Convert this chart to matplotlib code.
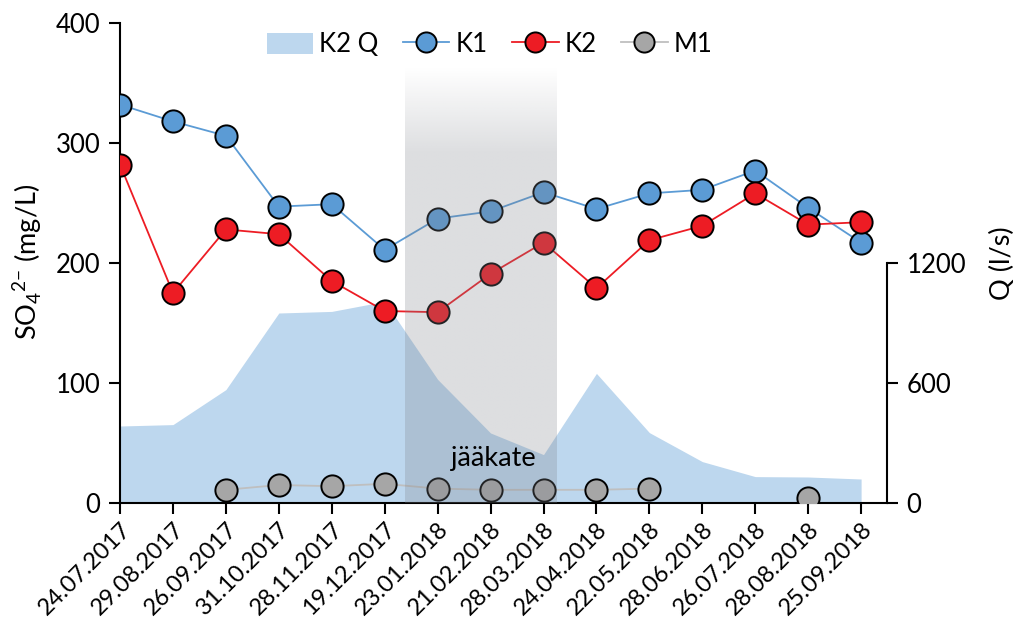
import numpy as np
import matplotlib
matplotlib.use("Agg")
import matplotlib.pyplot as plt
from matplotlib.patches import Patch
from matplotlib.lines import Line2D

plt.rcParams['font.family'] = ['Lato', 'DejaVu Sans']
plt.rcParams['mathtext.fontset'] = 'custom'
plt.rcParams['mathtext.rm'] = 'Lato'

# näytteenottopäivät
dates = ['24.07.2017', '29.08.2017', '26.09.2017', '31.10.2017', '28.11.2017',
         '19.12.2017', '23.01.2018', '21.02.2018', '28.03.2018', '24.04.2018',
         '22.05.2018', '28.06.2018', '26.07.2018', '28.08.2018', '25.09.2018']

# sulfaatti (mg/L)
k1 = [332, 318, 306, 247, 249, 211, 237, 243, 259, 245, 258, 261, 277, 246, 217]
k2 = [282, 175, 228, 224, 185, 160, 159, 191, 217, 179, 219, 231, 258, 232, 234]
m1 = [np.nan, np.nan, 11, 15, 14, 16, 12, 11, 11, 11, 12, np.nan, np.nan, 4, np.nan]

# K2 virtaama (l/s)
k2_q = [385, 392, 567, 950, 958, 1008, 618, 350, 242, 648, 352, 207, 132, 130, 120]

# jääpeitteen aika (x-akselin asemina)
ice_start, ice_end = 5.38, 8.25

x = np.arange(len(dates))

fig = plt.figure(figsize=(10.19, 6.32), dpi=100)
ax = fig.add_axes([0.1178, 0.2041, 0.7527, 0.7595])
axq = ax.twinx()
ax.set_zorder(axq.get_zorder() + 1)
ax.patch.set_visible(False)

# virtaama taustalle
axq.fill_between(x, k2_q, 0, color='#BDD7EE', lw=0, zorder=1)
axq.set_ylim(0, 2400)
axq.set_yticks([0, 600, 1200])
axq.spines['right'].set_bounds(0, 1200)
axq.spines['right'].set_linewidth(1.5)
axq.spines['top'].set_visible(False)
axq.spines['left'].set_visible(False)
axq.spines['bottom'].set_visible(False)
axq.tick_params(axis='y', labelsize=18.5, length=8, width=1.5, direction='out', pad=6)
axq.xaxis.grid(True, color='#D9D9D9', lw=1.3, zorder=0)
axq.set_axisbelow(True)

ms = 16
ax.plot(x, k1, '-o', color='#5B9BD5', lw=1.3, ms=ms, mfc='#5B9BD5', mec='black', mew=1.4, zorder=3)
ax.plot(x, k2, '-o', color='#ED1C24', lw=1.3, ms=ms, mfc='#ED1C24', mec='black', mew=1.4, zorder=3)
ax.plot(x, m1, '-o', color='#BFBFBF', lw=1.3, ms=ms, mfc='#A6A6A6', mec='black', mew=1.4, zorder=3)

# jääpeite: harmaa kaista, yläreuna liukuvärinä
n = 200
top = 364
yy = np.linspace(0, top, n)
alpha = np.clip((top - yy) / (top - 292), 0, 1) * 0.27
band = np.zeros((n, 1, 4))
band[..., 0] = 128 / 255
band[..., 1] = 132 / 255
band[..., 2] = 140 / 255
band[:, 0, 3] = alpha
ax.imshow(band, extent=[ice_start, ice_end, 0, top], origin='lower',
          aspect='auto', interpolation='bilinear', zorder=5)
ax.text(7.05, 37, 'jääkate', fontsize=19.5, ha='center', va='center', zorder=6)

ax.set_xlim(0, 14.49)
ax.set_ylim(0, 400)
ax.set_yticks([0, 100, 200, 300, 400])
ax.set_xticks(x)
ax.set_xticklabels(dates, rotation=45, ha='right', rotation_mode='anchor')
ax.tick_params(axis='x', labelsize=17, length=8, width=1.5, direction='out', pad=3)
ax.tick_params(axis='y', labelsize=18.5, length=8, width=1.5, direction='out', pad=6)
for s in ['top', 'right']:
    ax.spines[s].set_visible(False)
ax.spines['left'].set_linewidth(1.5)
ax.spines['bottom'].set_linewidth(1.5)

fig.text(0.0265, 0.585, r'SO$_4$$^{2\mathrm{-}}$ (mg/L)', fontsize=19.5,
         rotation=90, ha='center', va='center')
fig.text(0.984, 0.584, 'Q (l/s)', fontsize=19.5, rotation=90, ha='center', va='center')

handles = [
    Patch(facecolor='#BDD7EE', edgecolor='none'),
    Line2D([], [], color='#5B9BD5', marker='o', ms=14.5, mfc='#5B9BD5', mec='black', mew=1.4, lw=1.3),
    Line2D([], [], color='#ED1C24', marker='o', ms=14.5, mfc='#ED1C24', mec='black', mew=1.4, lw=1.3),
    Line2D([], [], color='#BFBFBF', marker='o', ms=14.5, mfc='#A6A6A6', mec='black', mew=1.4, lw=1.3),
]
ax.legend(handles, ['K2 Q', 'K1', 'K2', 'M1'], loc='center', bbox_to_anchor=(0.482, 0.955),
          ncol=4, frameon=False, fontsize=18.5, handlelength=1.8, handleheight=0.9,
          handletextpad=0.25, columnspacing=0.95, borderaxespad=0)

fig.savefig('out.png', dpi=100)
